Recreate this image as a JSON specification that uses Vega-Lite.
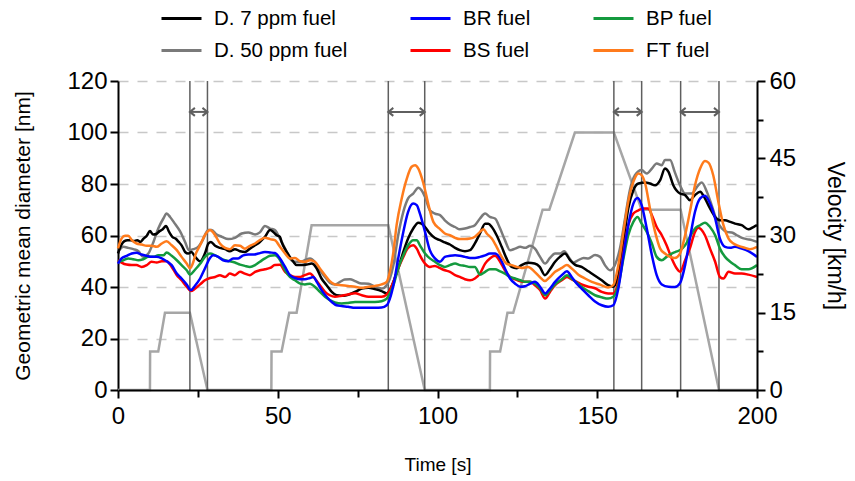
{
"$schema": "https://vega.github.io/schema/vega-lite/v6.json",
"width": 639, "height": 309,
"autosize": {"type": "none"},
"padding": {"left": 118, "top": 81, "right": 98, "bottom": 91},
"background": "white",
"config": {
  "font": "Liberation Sans",
  "view": {"stroke": null},
  "axis": {"domainColor": "black", "domainWidth": 2, "tickColor": "black", "tickWidth": 2, "labelColor": "black", "titleColor": "black", "labelFontSize": 24, "titleFontSize": 19, "titleFontWeight": "normal", "labelFlush": false, "labelOverlap": false, "labelFont": "Liberation Sans", "titleFont": "Liberation Sans"}
},
"datasets": {
"diam": [
{"s":"D. 50 ppm fuel","t":0,"d":53.6},{"s":"D. 50 ppm fuel","t":1.7,"d":55.6},{"s":"D. 50 ppm fuel","t":3.2,"d":55.2},{"s":"D. 50 ppm fuel","t":4.8,"d":54.7},{"s":"D. 50 ppm fuel","t":6.4,"d":53.9},{"s":"D. 50 ppm fuel","t":7.9,"d":51.7},{"s":"D. 50 ppm fuel","t":9.5,"d":53},{"s":"D. 50 ppm fuel","t":11.1,"d":57.5},{"s":"D. 50 ppm fuel","t":12.6,"d":62.7},{"s":"D. 50 ppm fuel","t":14.2,"d":66.6},{"s":"D. 50 ppm fuel","t":15.2,"d":68.5},{"s":"D. 50 ppm fuel","t":16.3,"d":67.2},{"s":"D. 50 ppm fuel","t":17.8,"d":64.6},{"s":"D. 50 ppm fuel","t":19.4,"d":61.7},{"s":"D. 50 ppm fuel","t":21,"d":57.5},{"s":"D. 50 ppm fuel","t":22.2,"d":54.3},{"s":"D. 50 ppm fuel","t":23.6,"d":54.7},{"s":"D. 50 ppm fuel","t":25.1,"d":55.6},{"s":"D. 50 ppm fuel","t":26.2,"d":57.5},{"s":"D. 50 ppm fuel","t":28.3,"d":62.1},{"s":"D. 50 ppm fuel","t":29.3,"d":62.1},{"s":"D. 50 ppm fuel","t":30.9,"d":60.4},{"s":"D. 50 ppm fuel","t":32.5,"d":59.5},{"s":"D. 50 ppm fuel","t":34.5,"d":58.6},{"s":"D. 50 ppm fuel","t":36.6,"d":59.1},{"s":"D. 50 ppm fuel","t":38.7,"d":60.8},{"s":"D. 50 ppm fuel","t":40.8,"d":61.2},{"s":"D. 50 ppm fuel","t":42.9,"d":60.4},{"s":"D. 50 ppm fuel","t":44.4,"d":61.2},{"s":"D. 50 ppm fuel","t":46,"d":63.7},{"s":"D. 50 ppm fuel","t":47.6,"d":62.7},{"s":"D. 50 ppm fuel","t":49.1,"d":62.1},{"s":"D. 50 ppm fuel","t":50.7,"d":58.8},{"s":"D. 50 ppm fuel","t":52.3,"d":54.9},{"s":"D. 50 ppm fuel","t":53.8,"d":51.1},{"s":"D. 50 ppm fuel","t":55.4,"d":49.8},{"s":"D. 50 ppm fuel","t":57,"d":49.8},{"s":"D. 50 ppm fuel","t":58.5,"d":50.4},{"s":"D. 50 ppm fuel","t":60.1,"d":51.1},{"s":"D. 50 ppm fuel","t":61.6,"d":49.8},{"s":"D. 50 ppm fuel","t":63.2,"d":46.5},{"s":"D. 50 ppm fuel","t":64.8,"d":43.9},{"s":"D. 50 ppm fuel","t":66.3,"d":41.7},{"s":"D. 50 ppm fuel","t":67.9,"d":41},{"s":"D. 50 ppm fuel","t":69.5,"d":42},{"s":"D. 50 ppm fuel","t":71,"d":42.9},{"s":"D. 50 ppm fuel","t":72.6,"d":43},{"s":"D. 50 ppm fuel","t":74.2,"d":42.3},{"s":"D. 50 ppm fuel","t":75.7,"d":41.5},{"s":"D. 50 ppm fuel","t":78.4,"d":41.3},{"s":"D. 50 ppm fuel","t":80.4,"d":40.1},{"s":"D. 50 ppm fuel","t":82.5,"d":39.4},{"s":"D. 50 ppm fuel","t":84.1,"d":40.7},{"s":"D. 50 ppm fuel","t":85.1,"d":43.3},{"s":"D. 50 ppm fuel","t":86.2,"d":48.5},{"s":"D. 50 ppm fuel","t":87.7,"d":60.1},{"s":"D. 50 ppm fuel","t":89.3,"d":69.2},{"s":"D. 50 ppm fuel","t":90.8,"d":74.4},{"s":"D. 50 ppm fuel","t":92.4,"d":76.3},{"s":"D. 50 ppm fuel","t":94,"d":78.5},{"s":"D. 50 ppm fuel","t":95,"d":77.6},{"s":"D. 50 ppm fuel","t":96.1,"d":75},{"s":"D. 50 ppm fuel","t":97.6,"d":69.8},{"s":"D. 50 ppm fuel","t":99.2,"d":68.5},{"s":"D. 50 ppm fuel","t":100.8,"d":67.9},{"s":"D. 50 ppm fuel","t":102.3,"d":65.9},{"s":"D. 50 ppm fuel","t":103.9,"d":64.3},{"s":"D. 50 ppm fuel","t":105.5,"d":63.3},{"s":"D. 50 ppm fuel","t":107,"d":62.4},{"s":"D. 50 ppm fuel","t":108.6,"d":62.7},{"s":"D. 50 ppm fuel","t":110.2,"d":63.3},{"s":"D. 50 ppm fuel","t":111.7,"d":64},{"s":"D. 50 ppm fuel","t":113.3,"d":66.6},{"s":"D. 50 ppm fuel","t":114.9,"d":68.5},{"s":"D. 50 ppm fuel","t":116.4,"d":67.2},{"s":"D. 50 ppm fuel","t":118,"d":66.6},{"s":"D. 50 ppm fuel","t":119.6,"d":62.7},{"s":"D. 50 ppm fuel","t":121.1,"d":58.2},{"s":"D. 50 ppm fuel","t":122.7,"d":54.3},{"s":"D. 50 ppm fuel","t":124.3,"d":54.9},{"s":"D. 50 ppm fuel","t":125.9,"d":55.6},{"s":"D. 50 ppm fuel","t":127.4,"d":55.2},{"s":"D. 50 ppm fuel","t":129,"d":56},{"s":"D. 50 ppm fuel","t":130.5,"d":54.9},{"s":"D. 50 ppm fuel","t":132.1,"d":51.7},{"s":"D. 50 ppm fuel","t":133.7,"d":49.1},{"s":"D. 50 ppm fuel","t":135.2,"d":51.3},{"s":"D. 50 ppm fuel","t":136.8,"d":53},{"s":"D. 50 ppm fuel","t":138.3,"d":53},{"s":"D. 50 ppm fuel","t":139.7,"d":53.9},{"s":"D. 50 ppm fuel","t":141,"d":51.7},{"s":"D. 50 ppm fuel","t":142.5,"d":49.5},{"s":"D. 50 ppm fuel","t":144.1,"d":50.4},{"s":"D. 50 ppm fuel","t":145.7,"d":51.3},{"s":"D. 50 ppm fuel","t":147.2,"d":51.1},{"s":"D. 50 ppm fuel","t":149.3,"d":52.4},{"s":"D. 50 ppm fuel","t":150.9,"d":51.7},{"s":"D. 50 ppm fuel","t":152.4,"d":48.5},{"s":"D. 50 ppm fuel","t":154,"d":46.5},{"s":"D. 50 ppm fuel","t":155.5,"d":48.5},{"s":"D. 50 ppm fuel","t":157.1,"d":54.9},{"s":"D. 50 ppm fuel","t":158.7,"d":66.6},{"s":"D. 50 ppm fuel","t":160.2,"d":77.6},{"s":"D. 50 ppm fuel","t":161.8,"d":83.4},{"s":"D. 50 ppm fuel","t":163.9,"d":85.4},{"s":"D. 50 ppm fuel","t":165.5,"d":84.1},{"s":"D. 50 ppm fuel","t":167.1,"d":86},{"s":"D. 50 ppm fuel","t":168.6,"d":88},{"s":"D. 50 ppm fuel","t":170.2,"d":87.3},{"s":"D. 50 ppm fuel","t":171.2,"d":89.3},{"s":"D. 50 ppm fuel","t":172.8,"d":89.3},{"s":"D. 50 ppm fuel","t":174.3,"d":84.5},{"s":"D. 50 ppm fuel","t":175.9,"d":79.5},{"s":"D. 50 ppm fuel","t":177.5,"d":76.3},{"s":"D. 50 ppm fuel","t":179.5,"d":76.3},{"s":"D. 50 ppm fuel","t":181.6,"d":79.5},{"s":"D. 50 ppm fuel","t":182.7,"d":80.6},{"s":"D. 50 ppm fuel","t":184.3,"d":77},{"s":"D. 50 ppm fuel","t":185.8,"d":71.8},{"s":"D. 50 ppm fuel","t":187.4,"d":65.9},{"s":"D. 50 ppm fuel","t":189,"d":62.7},{"s":"D. 50 ppm fuel","t":190.6,"d":61.4},{"s":"D. 50 ppm fuel","t":192.1,"d":61.2},{"s":"D. 50 ppm fuel","t":193.7,"d":60.1},{"s":"D. 50 ppm fuel","t":195.3,"d":59.1},{"s":"D. 50 ppm fuel","t":196.8,"d":58.6},{"s":"D. 50 ppm fuel","t":198.4,"d":58.2},{"s":"D. 50 ppm fuel","t":200,"d":57.5},
{"s":"D. 7 ppm fuel","t":0,"d":53},{"s":"D. 7 ppm fuel","t":1,"d":56.2},{"s":"D. 7 ppm fuel","t":2,"d":57.8},{"s":"D. 7 ppm fuel","t":3,"d":58.2},{"s":"D. 7 ppm fuel","t":4,"d":58.2},{"s":"D. 7 ppm fuel","t":5,"d":57.8},{"s":"D. 7 ppm fuel","t":6,"d":58.2},{"s":"D. 7 ppm fuel","t":7,"d":57.5},{"s":"D. 7 ppm fuel","t":8,"d":58.8},{"s":"D. 7 ppm fuel","t":9,"d":59.9},{"s":"D. 7 ppm fuel","t":10,"d":61.7},{"s":"D. 7 ppm fuel","t":11,"d":60.4},{"s":"D. 7 ppm fuel","t":12,"d":60.6},{"s":"D. 7 ppm fuel","t":13,"d":61.7},{"s":"D. 7 ppm fuel","t":14,"d":62.4},{"s":"D. 7 ppm fuel","t":15,"d":63.7},{"s":"D. 7 ppm fuel","t":16,"d":61.4},{"s":"D. 7 ppm fuel","t":17,"d":59.5},{"s":"D. 7 ppm fuel","t":18,"d":58.8},{"s":"D. 7 ppm fuel","t":19,"d":57.5},{"s":"D. 7 ppm fuel","t":20,"d":56},{"s":"D. 7 ppm fuel","t":21,"d":53.6},{"s":"D. 7 ppm fuel","t":22,"d":53},{"s":"D. 7 ppm fuel","t":23,"d":53.6},{"s":"D. 7 ppm fuel","t":24,"d":52},{"s":"D. 7 ppm fuel","t":25.7,"d":50},{"s":"D. 7 ppm fuel","t":27.2,"d":53},{"s":"D. 7 ppm fuel","t":28.3,"d":56.9},{"s":"D. 7 ppm fuel","t":29.1,"d":57.5},{"s":"D. 7 ppm fuel","t":30.4,"d":56},{"s":"D. 7 ppm fuel","t":31.9,"d":55.2},{"s":"D. 7 ppm fuel","t":33.5,"d":54.7},{"s":"D. 7 ppm fuel","t":35,"d":53.9},{"s":"D. 7 ppm fuel","t":36.6,"d":54.7},{"s":"D. 7 ppm fuel","t":38.2,"d":53.9},{"s":"D. 7 ppm fuel","t":39.7,"d":53.6},{"s":"D. 7 ppm fuel","t":41.3,"d":54.9},{"s":"D. 7 ppm fuel","t":42.9,"d":56.2},{"s":"D. 7 ppm fuel","t":44.4,"d":57.5},{"s":"D. 7 ppm fuel","t":46,"d":59.5},{"s":"D. 7 ppm fuel","t":47.6,"d":62.1},{"s":"D. 7 ppm fuel","t":48.6,"d":61.4},{"s":"D. 7 ppm fuel","t":49.7,"d":60.1},{"s":"D. 7 ppm fuel","t":50.7,"d":59.5},{"s":"D. 7 ppm fuel","t":51.2,"d":57.5},{"s":"D. 7 ppm fuel","t":52.8,"d":53.6},{"s":"D. 7 ppm fuel","t":53.8,"d":51.7},{"s":"D. 7 ppm fuel","t":54.9,"d":49.8},{"s":"D. 7 ppm fuel","t":55.9,"d":48.5},{"s":"D. 7 ppm fuel","t":57.5,"d":48.5},{"s":"D. 7 ppm fuel","t":59.1,"d":48.7},{"s":"D. 7 ppm fuel","t":60.6,"d":49.1},{"s":"D. 7 ppm fuel","t":62.2,"d":47.2},{"s":"D. 7 ppm fuel","t":63.7,"d":43.3},{"s":"D. 7 ppm fuel","t":65.3,"d":40.7},{"s":"D. 7 ppm fuel","t":66.9,"d":38.1},{"s":"D. 7 ppm fuel","t":68.4,"d":36.8},{"s":"D. 7 ppm fuel","t":70,"d":36.6},{"s":"D. 7 ppm fuel","t":71.5,"d":36.8},{"s":"D. 7 ppm fuel","t":73.1,"d":37.5},{"s":"D. 7 ppm fuel","t":74.7,"d":38.4},{"s":"D. 7 ppm fuel","t":76.3,"d":39.4},{"s":"D. 7 ppm fuel","t":78.4,"d":39.7},{"s":"D. 7 ppm fuel","t":80.3,"d":39.2},{"s":"D. 7 ppm fuel","t":82.5,"d":38.4},{"s":"D. 7 ppm fuel","t":84.1,"d":37.5},{"s":"D. 7 ppm fuel","t":85.1,"d":38.8},{"s":"D. 7 ppm fuel","t":86.2,"d":42},{"s":"D. 7 ppm fuel","t":87.7,"d":47.2},{"s":"D. 7 ppm fuel","t":89.3,"d":53.6},{"s":"D. 7 ppm fuel","t":90.8,"d":58.8},{"s":"D. 7 ppm fuel","t":92.4,"d":62.7},{"s":"D. 7 ppm fuel","t":94,"d":65},{"s":"D. 7 ppm fuel","t":95,"d":64.6},{"s":"D. 7 ppm fuel","t":96.1,"d":63.3},{"s":"D. 7 ppm fuel","t":97.6,"d":60.8},{"s":"D. 7 ppm fuel","t":99.2,"d":59},{"s":"D. 7 ppm fuel","t":100.8,"d":58.2},{"s":"D. 7 ppm fuel","t":102.3,"d":57.3},{"s":"D. 7 ppm fuel","t":103.9,"d":56.5},{"s":"D. 7 ppm fuel","t":105.5,"d":55.2},{"s":"D. 7 ppm fuel","t":107,"d":54.3},{"s":"D. 7 ppm fuel","t":108.6,"d":53.9},{"s":"D. 7 ppm fuel","t":110.2,"d":54.3},{"s":"D. 7 ppm fuel","t":111.7,"d":56.9},{"s":"D. 7 ppm fuel","t":113.3,"d":60.8},{"s":"D. 7 ppm fuel","t":114.9,"d":64.6},{"s":"D. 7 ppm fuel","t":115.9,"d":64.6},{"s":"D. 7 ppm fuel","t":117,"d":63.3},{"s":"D. 7 ppm fuel","t":118.5,"d":60.1},{"s":"D. 7 ppm fuel","t":120.1,"d":55.6},{"s":"D. 7 ppm fuel","t":121.6,"d":51.1},{"s":"D. 7 ppm fuel","t":123.2,"d":47.8},{"s":"D. 7 ppm fuel","t":124.8,"d":47.3},{"s":"D. 7 ppm fuel","t":126.3,"d":48.5},{"s":"D. 7 ppm fuel","t":128.4,"d":49.4},{"s":"D. 7 ppm fuel","t":130.4,"d":49.1},{"s":"D. 7 ppm fuel","t":132,"d":47.8},{"s":"D. 7 ppm fuel","t":133.6,"d":44.6},{"s":"D. 7 ppm fuel","t":135.2,"d":46.9},{"s":"D. 7 ppm fuel","t":136.8,"d":49.8},{"s":"D. 7 ppm fuel","t":138.3,"d":51.7},{"s":"D. 7 ppm fuel","t":139.9,"d":53},{"s":"D. 7 ppm fuel","t":141.5,"d":50.4},{"s":"D. 7 ppm fuel","t":143,"d":48.7},{"s":"D. 7 ppm fuel","t":145.1,"d":47.8},{"s":"D. 7 ppm fuel","t":147.2,"d":46.1},{"s":"D. 7 ppm fuel","t":149.3,"d":44.4},{"s":"D. 7 ppm fuel","t":151.4,"d":42.6},{"s":"D. 7 ppm fuel","t":153.4,"d":40.7},{"s":"D. 7 ppm fuel","t":155,"d":40.1},{"s":"D. 7 ppm fuel","t":156.6,"d":44.6},{"s":"D. 7 ppm fuel","t":158.2,"d":57.5},{"s":"D. 7 ppm fuel","t":159.7,"d":70.5},{"s":"D. 7 ppm fuel","t":161.3,"d":77.6},{"s":"D. 7 ppm fuel","t":162.9,"d":80.2},{"s":"D. 7 ppm fuel","t":165,"d":80.6},{"s":"D. 7 ppm fuel","t":166.5,"d":80.2},{"s":"D. 7 ppm fuel","t":168.1,"d":79.5},{"s":"D. 7 ppm fuel","t":169.7,"d":81.5},{"s":"D. 7 ppm fuel","t":171.2,"d":86},{"s":"D. 7 ppm fuel","t":172.3,"d":84.7},{"s":"D. 7 ppm fuel","t":173.8,"d":79.5},{"s":"D. 7 ppm fuel","t":175.9,"d":76.3},{"s":"D. 7 ppm fuel","t":177.5,"d":75.7},{"s":"D. 7 ppm fuel","t":179,"d":73.7},{"s":"D. 7 ppm fuel","t":180.6,"d":75.7},{"s":"D. 7 ppm fuel","t":182.2,"d":77},{"s":"D. 7 ppm fuel","t":183.7,"d":74.4},{"s":"D. 7 ppm fuel","t":185.3,"d":70.5},{"s":"D. 7 ppm fuel","t":186.9,"d":67.2},{"s":"D. 7 ppm fuel","t":188.4,"d":65.9},{"s":"D. 7 ppm fuel","t":190,"d":65.9},{"s":"D. 7 ppm fuel","t":191.6,"d":65.3},{"s":"D. 7 ppm fuel","t":193.1,"d":64.6},{"s":"D. 7 ppm fuel","t":195.2,"d":64},{"s":"D. 7 ppm fuel","t":197.3,"d":62.4},{"s":"D. 7 ppm fuel","t":198.9,"d":63.3},{"s":"D. 7 ppm fuel","t":200,"d":64},
{"s":"BS fuel","t":0,"d":50.4},{"s":"BS fuel","t":1.1,"d":49.5},{"s":"BS fuel","t":2.7,"d":48.7},{"s":"BS fuel","t":4.3,"d":48.5},{"s":"BS fuel","t":5.8,"d":48.5},{"s":"BS fuel","t":7.4,"d":47.8},{"s":"BS fuel","t":9,"d":48.5},{"s":"BS fuel","t":10.5,"d":49.8},{"s":"BS fuel","t":12.1,"d":49.5},{"s":"BS fuel","t":13.7,"d":50},{"s":"BS fuel","t":15.2,"d":50},{"s":"BS fuel","t":16.8,"d":47.8},{"s":"BS fuel","t":18.4,"d":44.6},{"s":"BS fuel","t":19.9,"d":42.6},{"s":"BS fuel","t":21.5,"d":40.1},{"s":"BS fuel","t":22.8,"d":38.4},{"s":"BS fuel","t":24.1,"d":39.3},{"s":"BS fuel","t":25.7,"d":41},{"s":"BS fuel","t":27.2,"d":42.6},{"s":"BS fuel","t":28.8,"d":43.5},{"s":"BS fuel","t":30.4,"d":43.9},{"s":"BS fuel","t":31.9,"d":44.6},{"s":"BS fuel","t":33.5,"d":43.9},{"s":"BS fuel","t":35,"d":45.2},{"s":"BS fuel","t":36.6,"d":44.6},{"s":"BS fuel","t":38.2,"d":45.9},{"s":"BS fuel","t":39.7,"d":45.2},{"s":"BS fuel","t":41.3,"d":44.6},{"s":"BS fuel","t":42.9,"d":45.9},{"s":"BS fuel","t":44.4,"d":46.5},{"s":"BS fuel","t":46,"d":46.9},{"s":"BS fuel","t":47.6,"d":47.4},{"s":"BS fuel","t":49.1,"d":48.5},{"s":"BS fuel","t":50.7,"d":48.6},{"s":"BS fuel","t":52.3,"d":45.9},{"s":"BS fuel","t":53.8,"d":44.6},{"s":"BS fuel","t":55.4,"d":43.9},{"s":"BS fuel","t":57,"d":43.9},{"s":"BS fuel","t":58.5,"d":44.6},{"s":"BS fuel","t":60.1,"d":45.2},{"s":"BS fuel","t":61.6,"d":43.3},{"s":"BS fuel","t":63.2,"d":40.7},{"s":"BS fuel","t":64.8,"d":38.1},{"s":"BS fuel","t":66.3,"d":36.8},{"s":"BS fuel","t":67.9,"d":36.2},{"s":"BS fuel","t":70,"d":36.6},{"s":"BS fuel","t":72,"d":37.1},{"s":"BS fuel","t":74.2,"d":37.6},{"s":"BS fuel","t":76.3,"d":36.8},{"s":"BS fuel","t":78.4,"d":36.2},{"s":"BS fuel","t":80.4,"d":36.2},{"s":"BS fuel","t":82.5,"d":36.2},{"s":"BS fuel","t":84.1,"d":37.1},{"s":"BS fuel","t":85.1,"d":38.8},{"s":"BS fuel","t":86.2,"d":42},{"s":"BS fuel","t":87.7,"d":47.2},{"s":"BS fuel","t":89.3,"d":51.7},{"s":"BS fuel","t":90.8,"d":55.2},{"s":"BS fuel","t":92.4,"d":56.2},{"s":"BS fuel","t":93.5,"d":54.9},{"s":"BS fuel","t":94.5,"d":52.3},{"s":"BS fuel","t":96.1,"d":49.1},{"s":"BS fuel","t":97.6,"d":47.8},{"s":"BS fuel","t":99.2,"d":48.2},{"s":"BS fuel","t":100.8,"d":47.3},{"s":"BS fuel","t":102.3,"d":46.5},{"s":"BS fuel","t":103.9,"d":45.9},{"s":"BS fuel","t":105.5,"d":44.6},{"s":"BS fuel","t":107,"d":43.9},{"s":"BS fuel","t":108.6,"d":43},{"s":"BS fuel","t":110.2,"d":42.6},{"s":"BS fuel","t":111.7,"d":43.3},{"s":"BS fuel","t":113.3,"d":45.2},{"s":"BS fuel","t":114.9,"d":49.1},{"s":"BS fuel","t":116.4,"d":51.1},{"s":"BS fuel","t":118,"d":52.1},{"s":"BS fuel","t":119.6,"d":49.8},{"s":"BS fuel","t":121.1,"d":46.5},{"s":"BS fuel","t":122.7,"d":43.9},{"s":"BS fuel","t":124.3,"d":43},{"s":"BS fuel","t":125.9,"d":42.2},{"s":"BS fuel","t":127.4,"d":42},{"s":"BS fuel","t":129,"d":42},{"s":"BS fuel","t":130.5,"d":40.7},{"s":"BS fuel","t":132.1,"d":38.8},{"s":"BS fuel","t":133.7,"d":35.5},{"s":"BS fuel","t":135.2,"d":38.1},{"s":"BS fuel","t":136.8,"d":40.7},{"s":"BS fuel","t":138.9,"d":42.6},{"s":"BS fuel","t":140.5,"d":43.9},{"s":"BS fuel","t":142,"d":43},{"s":"BS fuel","t":143.6,"d":42},{"s":"BS fuel","t":145.1,"d":41},{"s":"BS fuel","t":147.2,"d":40.1},{"s":"BS fuel","t":149.3,"d":39.5},{"s":"BS fuel","t":151.4,"d":38.1},{"s":"BS fuel","t":153.4,"d":37.5},{"s":"BS fuel","t":155,"d":37.5},{"s":"BS fuel","t":156.6,"d":42},{"s":"BS fuel","t":158.2,"d":53.6},{"s":"BS fuel","t":159.7,"d":64},{"s":"BS fuel","t":161.3,"d":68.5},{"s":"BS fuel","t":162.9,"d":69.8},{"s":"BS fuel","t":164.4,"d":70.5},{"s":"BS fuel","t":166,"d":70.5},{"s":"BS fuel","t":167.1,"d":67.9},{"s":"BS fuel","t":168.6,"d":63.3},{"s":"BS fuel","t":170.2,"d":60.1},{"s":"BS fuel","t":171.7,"d":56.2},{"s":"BS fuel","t":173.3,"d":51.1},{"s":"BS fuel","t":174.9,"d":47.2},{"s":"BS fuel","t":175.9,"d":45.9},{"s":"BS fuel","t":177.5,"d":50.4},{"s":"BS fuel","t":179,"d":55},{"s":"BS fuel","t":180.6,"d":61.4},{"s":"BS fuel","t":181.6,"d":63},{"s":"BS fuel","t":183.7,"d":60.1},{"s":"BS fuel","t":185.3,"d":54.9},{"s":"BS fuel","t":186.9,"d":49.8},{"s":"BS fuel","t":188.4,"d":43.9},{"s":"BS fuel","t":189.5,"d":43.3},{"s":"BS fuel","t":191.1,"d":45.9},{"s":"BS fuel","t":193.1,"d":45.2},{"s":"BS fuel","t":195.2,"d":45.2},{"s":"BS fuel","t":197.3,"d":44.8},{"s":"BS fuel","t":200,"d":43.9},
{"s":"BP fuel","t":0,"d":49.8},{"s":"BP fuel","t":1.7,"d":50.4},{"s":"BP fuel","t":3.2,"d":51.1},{"s":"BP fuel","t":4.8,"d":50.8},{"s":"BP fuel","t":6.4,"d":50.4},{"s":"BP fuel","t":7.9,"d":50.8},{"s":"BP fuel","t":9.5,"d":51.7},{"s":"BP fuel","t":11.1,"d":51.7},{"s":"BP fuel","t":12.6,"d":52.3},{"s":"BP fuel","t":14.2,"d":52.3},{"s":"BP fuel","t":15.2,"d":53.4},{"s":"BP fuel","t":16.8,"d":52.1},{"s":"BP fuel","t":18.4,"d":50.4},{"s":"BP fuel","t":19.9,"d":48.5},{"s":"BP fuel","t":21.5,"d":46.5},{"s":"BP fuel","t":22.5,"d":44.8},{"s":"BP fuel","t":24.1,"d":46.7},{"s":"BP fuel","t":25.7,"d":49},{"s":"BP fuel","t":27.2,"d":51.7},{"s":"BP fuel","t":28.8,"d":53},{"s":"BP fuel","t":30.4,"d":52.3},{"s":"BP fuel","t":31.9,"d":51.3},{"s":"BP fuel","t":33.5,"d":50.4},{"s":"BP fuel","t":35,"d":50},{"s":"BP fuel","t":36.6,"d":49.5},{"s":"BP fuel","t":38.2,"d":48.7},{"s":"BP fuel","t":39.7,"d":48.2},{"s":"BP fuel","t":41.3,"d":47.8},{"s":"BP fuel","t":42.9,"d":48.5},{"s":"BP fuel","t":44.4,"d":49.8},{"s":"BP fuel","t":46,"d":51.1},{"s":"BP fuel","t":47.6,"d":52.1},{"s":"BP fuel","t":49.1,"d":52.3},{"s":"BP fuel","t":50.7,"d":50.5},{"s":"BP fuel","t":52.3,"d":46.5},{"s":"BP fuel","t":53.8,"d":43.9},{"s":"BP fuel","t":55.4,"d":42.6},{"s":"BP fuel","t":57,"d":41.3},{"s":"BP fuel","t":58.5,"d":41},{"s":"BP fuel","t":60.1,"d":41.3},{"s":"BP fuel","t":61.6,"d":40.1},{"s":"BP fuel","t":63.2,"d":38.1},{"s":"BP fuel","t":64.8,"d":36.2},{"s":"BP fuel","t":66.3,"d":34.9},{"s":"BP fuel","t":67.9,"d":34},{"s":"BP fuel","t":70,"d":33.6},{"s":"BP fuel","t":72,"d":33.8},{"s":"BP fuel","t":74.2,"d":34.2},{"s":"BP fuel","t":77.3,"d":34.2},{"s":"BP fuel","t":80.4,"d":34.2},{"s":"BP fuel","t":82.5,"d":34.5},{"s":"BP fuel","t":84.1,"d":35.5},{"s":"BP fuel","t":85.1,"d":37.5},{"s":"BP fuel","t":86.2,"d":40.7},{"s":"BP fuel","t":87.7,"d":47.2},{"s":"BP fuel","t":89.3,"d":52.3},{"s":"BP fuel","t":90.8,"d":56.2},{"s":"BP fuel","t":92.4,"d":58.2},{"s":"BP fuel","t":93.5,"d":58.2},{"s":"BP fuel","t":94.5,"d":56.2},{"s":"BP fuel","t":96.1,"d":53},{"s":"BP fuel","t":97.6,"d":51.1},{"s":"BP fuel","t":99.2,"d":49.8},{"s":"BP fuel","t":100.8,"d":48.5},{"s":"BP fuel","t":102.3,"d":47.8},{"s":"BP fuel","t":103.9,"d":48.5},{"s":"BP fuel","t":105.5,"d":49.1},{"s":"BP fuel","t":107,"d":48.5},{"s":"BP fuel","t":108.6,"d":48.2},{"s":"BP fuel","t":110.2,"d":47.8},{"s":"BP fuel","t":111.7,"d":47.8},{"s":"BP fuel","t":113.3,"d":44.8},{"s":"BP fuel","t":114.9,"d":45.9},{"s":"BP fuel","t":116.4,"d":46.9},{"s":"BP fuel","t":118,"d":46.9},{"s":"BP fuel","t":119.6,"d":46.1},{"s":"BP fuel","t":121.1,"d":45.2},{"s":"BP fuel","t":122.7,"d":43.9},{"s":"BP fuel","t":124.3,"d":43.3},{"s":"BP fuel","t":125.9,"d":42.6},{"s":"BP fuel","t":127.4,"d":42},{"s":"BP fuel","t":129,"d":42},{"s":"BP fuel","t":130.5,"d":41.3},{"s":"BP fuel","t":132.1,"d":39.4},{"s":"BP fuel","t":133.7,"d":36.8},{"s":"BP fuel","t":135.2,"d":38.8},{"s":"BP fuel","t":136.8,"d":41},{"s":"BP fuel","t":138.9,"d":43},{"s":"BP fuel","t":140.5,"d":44.6},{"s":"BP fuel","t":142,"d":43.3},{"s":"BP fuel","t":143.6,"d":41.7},{"s":"BP fuel","t":145.1,"d":40.1},{"s":"BP fuel","t":147.2,"d":38.4},{"s":"BP fuel","t":149.3,"d":36.8},{"s":"BP fuel","t":151.4,"d":36},{"s":"BP fuel","t":153.4,"d":35.5},{"s":"BP fuel","t":155,"d":36.2},{"s":"BP fuel","t":156.6,"d":40.7},{"s":"BP fuel","t":158.2,"d":51.1},{"s":"BP fuel","t":159.7,"d":60.1},{"s":"BP fuel","t":161.3,"d":65.3},{"s":"BP fuel","t":162.6,"d":67.2},{"s":"BP fuel","t":163.9,"d":64.6},{"s":"BP fuel","t":165.5,"d":61.4},{"s":"BP fuel","t":167.1,"d":56.9},{"s":"BP fuel","t":168.6,"d":51.7},{"s":"BP fuel","t":170.2,"d":50.4},{"s":"BP fuel","t":171.7,"d":51.7},{"s":"BP fuel","t":173.3,"d":53},{"s":"BP fuel","t":174.9,"d":53.8},{"s":"BP fuel","t":175.9,"d":54.3},{"s":"BP fuel","t":177.5,"d":56.2},{"s":"BP fuel","t":179,"d":59.5},{"s":"BP fuel","t":180.6,"d":62.7},{"s":"BP fuel","t":182.2,"d":64},{"s":"BP fuel","t":183.7,"d":65},{"s":"BP fuel","t":185.3,"d":63.3},{"s":"BP fuel","t":186.9,"d":60.1},{"s":"BP fuel","t":188.4,"d":54.9},{"s":"BP fuel","t":190,"d":51.7},{"s":"BP fuel","t":191.6,"d":49.8},{"s":"BP fuel","t":193.1,"d":48.5},{"s":"BP fuel","t":195.2,"d":46.9},{"s":"BP fuel","t":197.3,"d":46.9},{"s":"BP fuel","t":200,"d":48.5},
{"s":"BR fuel","t":0,"d":49.1},{"s":"BR fuel","t":1.1,"d":51.1},{"s":"BR fuel","t":2.7,"d":52.1},{"s":"BR fuel","t":4.3,"d":53},{"s":"BR fuel","t":5.8,"d":53.3},{"s":"BR fuel","t":7.4,"d":52.6},{"s":"BR fuel","t":9,"d":52.1},{"s":"BR fuel","t":10.5,"d":51.7},{"s":"BR fuel","t":12.1,"d":51.7},{"s":"BR fuel","t":13.7,"d":51.1},{"s":"BR fuel","t":15.2,"d":50},{"s":"BR fuel","t":16.8,"d":48.5},{"s":"BR fuel","t":18.4,"d":45.2},{"s":"BR fuel","t":19.9,"d":43.3},{"s":"BR fuel","t":21.5,"d":41},{"s":"BR fuel","t":22.8,"d":38.8},{"s":"BR fuel","t":24.1,"d":40.5},{"s":"BR fuel","t":25.7,"d":43.3},{"s":"BR fuel","t":27.2,"d":47.2},{"s":"BR fuel","t":28.8,"d":51.3},{"s":"BR fuel","t":29.8,"d":52.3},{"s":"BR fuel","t":31.4,"d":51.7},{"s":"BR fuel","t":32.9,"d":50.4},{"s":"BR fuel","t":34.5,"d":50},{"s":"BR fuel","t":36,"d":51.1},{"s":"BR fuel","t":37.6,"d":51.1},{"s":"BR fuel","t":39.2,"d":52.3},{"s":"BR fuel","t":40.8,"d":52.6},{"s":"BR fuel","t":42.3,"d":52.6},{"s":"BR fuel","t":43.9,"d":53},{"s":"BR fuel","t":46,"d":53.6},{"s":"BR fuel","t":47.6,"d":53.4},{"s":"BR fuel","t":49.1,"d":53.2},{"s":"BR fuel","t":50.7,"d":51.1},{"s":"BR fuel","t":52.3,"d":47.8},{"s":"BR fuel","t":53.8,"d":44.6},{"s":"BR fuel","t":55.4,"d":43.5},{"s":"BR fuel","t":57,"d":43},{"s":"BR fuel","t":58.5,"d":43},{"s":"BR fuel","t":60.1,"d":43.5},{"s":"BR fuel","t":61.1,"d":43.9},{"s":"BR fuel","t":62.2,"d":42},{"s":"BR fuel","t":63.7,"d":38.8},{"s":"BR fuel","t":65.3,"d":36.2},{"s":"BR fuel","t":66.9,"d":34.2},{"s":"BR fuel","t":68.4,"d":32.9},{"s":"BR fuel","t":70,"d":32.6},{"s":"BR fuel","t":72,"d":32.3},{"s":"BR fuel","t":74.2,"d":31.9},{"s":"BR fuel","t":77.3,"d":31.9},{"s":"BR fuel","t":80.4,"d":31.9},{"s":"BR fuel","t":82.5,"d":32},{"s":"BR fuel","t":84.1,"d":32.9},{"s":"BR fuel","t":85.1,"d":35.5},{"s":"BR fuel","t":86.2,"d":40.7},{"s":"BR fuel","t":87.7,"d":51.1},{"s":"BR fuel","t":89.3,"d":61.4},{"s":"BR fuel","t":90.8,"d":69.2},{"s":"BR fuel","t":92.4,"d":72.4},{"s":"BR fuel","t":93.5,"d":71.8},{"s":"BR fuel","t":94.5,"d":68.5},{"s":"BR fuel","t":96.1,"d":61.4},{"s":"BR fuel","t":97.6,"d":54.3},{"s":"BR fuel","t":99.2,"d":51.1},{"s":"BR fuel","t":100.8,"d":49.8},{"s":"BR fuel","t":102.3,"d":51.7},{"s":"BR fuel","t":103.9,"d":52.1},{"s":"BR fuel","t":105.5,"d":52.3},{"s":"BR fuel","t":107,"d":52.1},{"s":"BR fuel","t":108.6,"d":51.7},{"s":"BR fuel","t":110.2,"d":51.3},{"s":"BR fuel","t":111.7,"d":51.3},{"s":"BR fuel","t":113.3,"d":51.7},{"s":"BR fuel","t":114.9,"d":52.3},{"s":"BR fuel","t":116.4,"d":53},{"s":"BR fuel","t":118,"d":53},{"s":"BR fuel","t":119.6,"d":51.1},{"s":"BR fuel","t":121.1,"d":47.2},{"s":"BR fuel","t":122.7,"d":43.3},{"s":"BR fuel","t":124.3,"d":41.3},{"s":"BR fuel","t":125.9,"d":40.1},{"s":"BR fuel","t":127.4,"d":40.3},{"s":"BR fuel","t":129,"d":41.3},{"s":"BR fuel","t":130.5,"d":42},{"s":"BR fuel","t":132.1,"d":40.1},{"s":"BR fuel","t":133.7,"d":37.5},{"s":"BR fuel","t":135.2,"d":39.4},{"s":"BR fuel","t":136.8,"d":42},{"s":"BR fuel","t":138.9,"d":44.6},{"s":"BR fuel","t":140.5,"d":46.1},{"s":"BR fuel","t":142,"d":43.9},{"s":"BR fuel","t":143.6,"d":41.3},{"s":"BR fuel","t":145.1,"d":39.4},{"s":"BR fuel","t":147.2,"d":36.8},{"s":"BR fuel","t":149.3,"d":34.4},{"s":"BR fuel","t":151.4,"d":32.9},{"s":"BR fuel","t":153.4,"d":32.3},{"s":"BR fuel","t":155,"d":32.9},{"s":"BR fuel","t":156.6,"d":39.4},{"s":"BR fuel","t":158.2,"d":52.3},{"s":"BR fuel","t":159.7,"d":64},{"s":"BR fuel","t":161.3,"d":72.4},{"s":"BR fuel","t":162.6,"d":74.6},{"s":"BR fuel","t":163.9,"d":71.8},{"s":"BR fuel","t":165.5,"d":62.7},{"s":"BR fuel","t":167.1,"d":52.3},{"s":"BR fuel","t":168.6,"d":44.6},{"s":"BR fuel","t":170.2,"d":41},{"s":"BR fuel","t":172.3,"d":40.1},{"s":"BR fuel","t":174.3,"d":40},{"s":"BR fuel","t":175.9,"d":41.5},{"s":"BR fuel","t":177.5,"d":48.5},{"s":"BR fuel","t":179,"d":58.8},{"s":"BR fuel","t":180.6,"d":69.2},{"s":"BR fuel","t":182.2,"d":74.4},{"s":"BR fuel","t":183.7,"d":75.4},{"s":"BR fuel","t":185.3,"d":72.4},{"s":"BR fuel","t":186.9,"d":66.6},{"s":"BR fuel","t":188.4,"d":58.8},{"s":"BR fuel","t":190,"d":55.6},{"s":"BR fuel","t":191.6,"d":55.2},{"s":"BR fuel","t":193.1,"d":55.6},{"s":"BR fuel","t":195.2,"d":54.9},{"s":"BR fuel","t":197.3,"d":53.9},{"s":"BR fuel","t":200,"d":51.7},
{"s":"FT fuel","t":0,"d":55},{"s":"FT fuel","t":1.1,"d":58.8},{"s":"FT fuel","t":2.2,"d":59.9},{"s":"FT fuel","t":3.2,"d":59.9},{"s":"FT fuel","t":4.3,"d":58.2},{"s":"FT fuel","t":5.8,"d":56.9},{"s":"FT fuel","t":7.4,"d":56.5},{"s":"FT fuel","t":9,"d":56},{"s":"FT fuel","t":10.5,"d":56},{"s":"FT fuel","t":12.1,"d":55.6},{"s":"FT fuel","t":13.7,"d":56.9},{"s":"FT fuel","t":15.2,"d":57.8},{"s":"FT fuel","t":16.8,"d":56.2},{"s":"FT fuel","t":18.4,"d":54.3},{"s":"FT fuel","t":19.9,"d":51.7},{"s":"FT fuel","t":21.5,"d":49.1},{"s":"FT fuel","t":22.5,"d":47.3},{"s":"FT fuel","t":23.6,"d":49.8},{"s":"FT fuel","t":24.1,"d":52},{"s":"FT fuel","t":25.7,"d":56.2},{"s":"FT fuel","t":27.2,"d":60.1},{"s":"FT fuel","t":28.8,"d":62.1},{"s":"FT fuel","t":30.4,"d":60.1},{"s":"FT fuel","t":31.9,"d":56.9},{"s":"FT fuel","t":33.5,"d":55.2},{"s":"FT fuel","t":35,"d":54.7},{"s":"FT fuel","t":36.6,"d":56.2},{"s":"FT fuel","t":38.2,"d":56},{"s":"FT fuel","t":39.7,"d":54.9},{"s":"FT fuel","t":41.3,"d":56},{"s":"FT fuel","t":42.9,"d":56.9},{"s":"FT fuel","t":44.4,"d":58.2},{"s":"FT fuel","t":46,"d":59.1},{"s":"FT fuel","t":47.6,"d":58.6},{"s":"FT fuel","t":49.1,"d":58.2},{"s":"FT fuel","t":50.7,"d":55.6},{"s":"FT fuel","t":52.3,"d":53},{"s":"FT fuel","t":53.8,"d":51.1},{"s":"FT fuel","t":55.4,"d":51.3},{"s":"FT fuel","t":57,"d":50},{"s":"FT fuel","t":58.5,"d":49.8},{"s":"FT fuel","t":60.1,"d":50.4},{"s":"FT fuel","t":61.6,"d":49.8},{"s":"FT fuel","t":63.2,"d":47.2},{"s":"FT fuel","t":64.8,"d":44.6},{"s":"FT fuel","t":66.3,"d":42.3},{"s":"FT fuel","t":67.9,"d":41},{"s":"FT fuel","t":70,"d":40.7},{"s":"FT fuel","t":72,"d":40.4},{"s":"FT fuel","t":74.2,"d":40.1},{"s":"FT fuel","t":76.3,"d":39.7},{"s":"FT fuel","t":78.4,"d":40.1},{"s":"FT fuel","t":80.4,"d":40.4},{"s":"FT fuel","t":82.5,"d":41},{"s":"FT fuel","t":84.1,"d":42},{"s":"FT fuel","t":85.1,"d":45.9},{"s":"FT fuel","t":86.2,"d":53.6},{"s":"FT fuel","t":87.2,"d":64},{"s":"FT fuel","t":88.8,"d":74.4},{"s":"FT fuel","t":90.4,"d":82.1},{"s":"FT fuel","t":91.9,"d":86.7},{"s":"FT fuel","t":93,"d":87.3},{"s":"FT fuel","t":94,"d":86},{"s":"FT fuel","t":95.6,"d":80.2},{"s":"FT fuel","t":97.2,"d":71.8},{"s":"FT fuel","t":98.7,"d":65.3},{"s":"FT fuel","t":100.8,"d":62.5},{"s":"FT fuel","t":102.3,"d":60.8},{"s":"FT fuel","t":103.9,"d":60.1},{"s":"FT fuel","t":105.5,"d":59.1},{"s":"FT fuel","t":107,"d":58.6},{"s":"FT fuel","t":108.6,"d":58.6},{"s":"FT fuel","t":110.2,"d":58.8},{"s":"FT fuel","t":111.7,"d":59.5},{"s":"FT fuel","t":113.3,"d":61.4},{"s":"FT fuel","t":114.4,"d":62.4},{"s":"FT fuel","t":115.4,"d":60.8},{"s":"FT fuel","t":117,"d":58.8},{"s":"FT fuel","t":118.5,"d":55.6},{"s":"FT fuel","t":120.1,"d":51.7},{"s":"FT fuel","t":121.6,"d":49.1},{"s":"FT fuel","t":123.2,"d":48.5},{"s":"FT fuel","t":124.8,"d":47.8},{"s":"FT fuel","t":126.3,"d":47.4},{"s":"FT fuel","t":128.4,"d":47.8},{"s":"FT fuel","t":130.4,"d":45.9},{"s":"FT fuel","t":132,"d":43.9},{"s":"FT fuel","t":133.6,"d":42.3},{"s":"FT fuel","t":135.2,"d":43.9},{"s":"FT fuel","t":136.8,"d":45.9},{"s":"FT fuel","t":138.9,"d":47.4},{"s":"FT fuel","t":140.5,"d":48.5},{"s":"FT fuel","t":142,"d":47.2},{"s":"FT fuel","t":144.1,"d":44.8},{"s":"FT fuel","t":146.2,"d":43.3},{"s":"FT fuel","t":148.3,"d":42},{"s":"FT fuel","t":150.9,"d":40.9},{"s":"FT fuel","t":153.4,"d":39.8},{"s":"FT fuel","t":155,"d":40.7},{"s":"FT fuel","t":156.6,"d":48.5},{"s":"FT fuel","t":158.2,"d":61.4},{"s":"FT fuel","t":159.7,"d":73.1},{"s":"FT fuel","t":161.3,"d":80.8},{"s":"FT fuel","t":162.9,"d":84.1},{"s":"FT fuel","t":163.9,"d":83.4},{"s":"FT fuel","t":165,"d":80.2},{"s":"FT fuel","t":166.5,"d":70.5},{"s":"FT fuel","t":168.1,"d":61.4},{"s":"FT fuel","t":169.7,"d":54.9},{"s":"FT fuel","t":171.2,"d":53},{"s":"FT fuel","t":172.8,"d":51.7},{"s":"FT fuel","t":174.3,"d":51.3},{"s":"FT fuel","t":175.9,"d":53},{"s":"FT fuel","t":177.5,"d":60.1},{"s":"FT fuel","t":179,"d":69.2},{"s":"FT fuel","t":180.6,"d":79.5},{"s":"FT fuel","t":182.2,"d":86},{"s":"FT fuel","t":183.7,"d":88.9},{"s":"FT fuel","t":184.8,"d":88.3},{"s":"FT fuel","t":186.3,"d":83.4},{"s":"FT fuel","t":187.9,"d":73.1},{"s":"FT fuel","t":189.5,"d":64},{"s":"FT fuel","t":191.1,"d":58.8},{"s":"FT fuel","t":192.6,"d":56.9},{"s":"FT fuel","t":194.2,"d":56},{"s":"FT fuel","t":196.3,"d":55.2},{"s":"FT fuel","t":197.8,"d":54.7},{"s":"FT fuel","t":200,"d":55.6}
],
"vel": [
{"t":0,"v":0},{"t":10,"v":0},{"t":10.05,"v":7.5},{"t":12.6,"v":7.5},{"t":14.7,"v":15},{"t":22.5,"v":15},{"t":28,"v":0},{"t":48,"v":0},{"t":48.05,"v":7.5},{"t":51.2,"v":7.5},{"t":53.6,"v":15},{"t":55.9,"v":15},{"t":60.6,"v":32},{"t":84.6,"v":32},{"t":96,"v":0},{"t":116.4,"v":0},{"t":116.45,"v":7.5},{"t":119.6,"v":7.5},{"t":121.9,"v":15},{"t":123.7,"v":15},{"t":132.9,"v":35},{"t":135,"v":35},{"t":143,"v":50},{"t":155.2,"v":50},{"t":163.9,"v":35},{"t":176.1,"v":35},{"t":188.1,"v":0},{"t":200,"v":0}
],
"events": [{"t":22.5},{"t":28},{"t":84.6},{"t":96},{"t":155.2},{"t":163.9},{"t":176.1},{"t":188.1}],
"arrows": [{"a":22.5,"b":28},{"a":84.6,"b":96},{"a":155.2,"b":163.9},{"a":176.1,"b":188.1}]
},
"layer": [
  {
    "data": {"name": "vel"},
    "mark": {"type": "line", "color": "#a6a6a6", "strokeWidth": 2.5},
    "encoding": {
      "x": {"field": "t", "type": "quantitative", "scale": {"domain": [0, 200], "nice": false}, "title": "Time [s]",
        "axis": {"values": [0,12.5,25,37.5,50,62.5,75,87.5,100,112.5,125,137.5,150,162.5,175,187.5,200], "labelExpr": "datum.value % 50 == 0 ? datum.label : ''", "tickSize": {"condition": {"test": "datum.value % 50 == 0", "value": 8}, "value": 7}, "labelPadding": 6, "titlePadding": 27, "titleFontSize": 19, "grid": false, "zindex": 1}},
      "y": {"field": "v", "type": "quantitative", "scale": {"domain": [0, 60], "nice": false}, "title": "Velocity [km/h]",
        "axis": {"orient": "right", "values": [0,7.5,15,22.5,30,37.5,45,52.5,60], "labelExpr": "datum.value % 15 == 0 ? datum.label : ''", "tickSize": {"condition": {"test": "datum.value % 15 == 0", "value": 8}, "value": 6}, "labelPadding": 4, "titlePadding": 27, "titleFontSize": 23, "grid": false, "zindex": 1}}
    }
  },
  {
    "layer": [
      {
        "data": {"name": "events"},
        "mark": {"type": "rule", "color": "#5f5f5f", "strokeWidth": 1.5},
        "encoding": {"x": {"field": "t", "type": "quantitative"}}
      },
      {
        "data": {"name": "diam"},
        "mark": {"type": "line", "strokeWidth": 2.5, "interpolate": "monotone"},
        "encoding": {
          "x": {"field": "t", "type": "quantitative"},
          "y": {"field": "d", "type": "quantitative", "scale": {"domain": [0, 120], "nice": false}, "title": "Geometric mean diameter [nm]",
            "axis": {"orient": "left", "values": [0,10,20,30,40,50,60,70,80,90,100,110,120], "labelExpr": "datum.value % 20 == 0 ? datum.label : ''", "tickSize": {"condition": {"test": "datum.value % 20 == 0", "value": 8}, "value": 6}, "labelPadding": 3, "titlePadding": 33, "titleFontSize": 21, "grid": true, "gridColor": "#c8c8c8", "gridWidth": 1.5, "gridDash": [10, 9], "gridOpacity": {"condition": {"test": "datum.value % 20 == 0 && datum.value > 0", "value": 1}, "value": 0}}},
          "color": {"field": "s", "type": "nominal",
            "scale": {"domain": ["D. 7 ppm fuel", "D. 50 ppm fuel", "BR fuel", "BS fuel", "BP fuel", "FT fuel"], "range": ["#000000", "#7a7a7a", "#0000ff", "#ff0000", "#149a3e", "#ff7b1c"]},
            "legend": {"orient": "none", "legendX": 42, "legendY": -84, "columns": 3, "title": null, "symbolType": "stroke", "symbolStrokeWidth": 3, "symbolSize": 1600, "labelFontSize": 20.5, "labelFont": "Liberation Sans", "labelColor": "black", "labelOffset": 11, "columnPadding": 56, "rowPadding": -1}}
        }
      },
      {
        "data": {"name": "arrows"},
        "mark": {"type": "rule", "color": "#5f5f5f", "strokeWidth": 2},
        "encoding": {"x": {"field": "a", "type": "quantitative"}, "x2": {"field": "b"}, "y": {"datum": 108}}
      },
      {
        "data": {"name": "arrows"},
        "mark": {"type": "point", "shape": "M1,-0.8L0,0L1,0.8", "filled": false, "color": "#5f5f5f", "strokeWidth": 2, "size": 100, "opacity": 1},
        "encoding": {"x": {"field": "a", "type": "quantitative"}, "y": {"datum": 108}}
      },
      {
        "data": {"name": "arrows"},
        "mark": {"type": "point", "shape": "M-1,-0.8L0,0L-1,0.8", "filled": false, "color": "#5f5f5f", "strokeWidth": 2, "size": 100, "opacity": 1},
        "encoding": {"x": {"field": "b", "type": "quantitative"}, "y": {"datum": 108}}
      }
    ]
  }
],
"resolve": {"scale": {"y": "independent"}}
}
